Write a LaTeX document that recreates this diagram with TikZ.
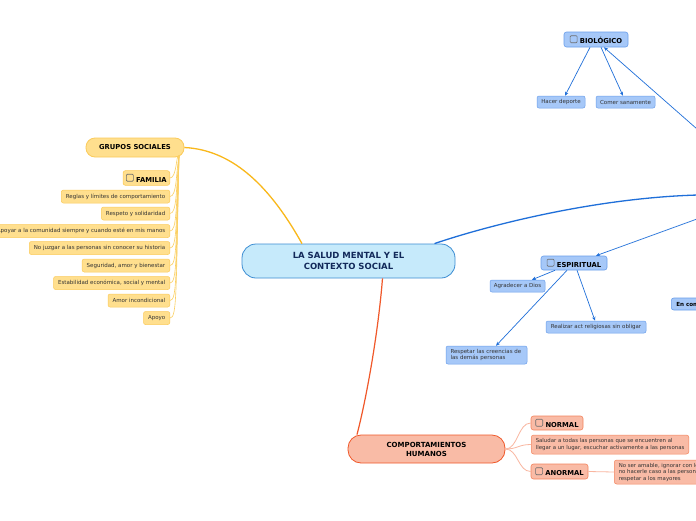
\documentclass[tikz,border=0pt]{standalone}
\usepackage{fontspec}
\setmainfont{DejaVu Sans}
\usetikzlibrary{arrows.meta}
\definecolor{cfill}{HTML}{C6EAFB}
\definecolor{cborder}{HTML}{3C8DD3}
\definecolor{navy}{HTML}{12295A}
\definecolor{yfill}{HTML}{FFDF8E}
\definecolor{yborder}{HTML}{FBCB5A}
\definecolor{ylink}{HTML}{F9B81B}
\definecolor{ythin}{HTML}{FBD063}
\definecolor{bfill}{HTML}{A6C8F8}
\definecolor{bborder}{HTML}{6A9EEB}
\definecolor{blink}{HTML}{1F6FD9}
\definecolor{sfill}{HTML}{F9BBA6}
\definecolor{sborder}{HTML}{F3855F}
\definecolor{slink}{HTML}{F0582A}
\definecolor{sthin}{HTML}{F9B6A0}
\definecolor{txt}{HTML}{333333}
\definecolor{boxgray}{HTML}{6E6E6E}
\newcommand\chkbx{\tikz[baseline=-0.8pt]\draw[draw=boxgray,line width=0.6pt,rounded corners=1pt] (0pt,0pt) rectangle (7pt,7pt);\hspace{2.5pt}}
\tikzset{
  central/.style={draw=cborder, fill=cfill, line width=0.8pt, rounded corners=14pt,
    font=\fontsize{8.5}{10.5}\selectfont\bfseries, text=navy, align=center, inner sep=0pt},
  ymain/.style={draw=yborder, fill=yfill, line width=0.8pt, rounded corners=9pt,
    font=\fontsize{6.8}{8}\selectfont\bfseries, text=black, inner sep=0pt},
  ysub/.style={draw=yborder, fill=yfill, line width=0.6pt, rounded corners=2.5pt,
    font=\fontsize{6.8}{8}\selectfont\bfseries, text=black, inner xsep=3pt, minimum height=14pt, anchor=east},
  yitem/.style={draw=yborder, fill=yfill, line width=0.5pt, rounded corners=2pt,
    font=\fontsize{5.5}{6.6}\selectfont, text=txt, inner xsep=4.5pt, inner ysep=0pt, minimum height=13pt, anchor=east},
  bsub/.style={draw=bborder, fill=bfill, line width=0.6pt, rounded corners=2.5pt,
    font=\fontsize{6.8}{8}\selectfont\bfseries, text=black, inner sep=0pt},
  bitem/.style={draw=bborder, fill=bfill, line width=0.5pt, rounded corners=2pt,
    font=\fontsize{5.5}{6.6}\selectfont, text=txt, inner sep=0pt},
  smain/.style={draw=slink, fill=sfill, line width=0.8pt, rounded corners=13pt,
    font=\fontsize{7}{9}\selectfont\bfseries, text=black, align=center, inner sep=0pt},
  ssub/.style={draw=sborder, fill=sfill, line width=0.6pt, rounded corners=2.5pt,
    font=\fontsize{6.8}{8}\selectfont\bfseries, text=black, inner sep=0pt},
  sitem/.style={draw=sborder, fill=sfill, line width=0.5pt, rounded corners=2.5pt,
    font=\fontsize{5.4}{6.6}\selectfont, text=txt, inner xsep=4.5pt, inner ysep=0pt, align=left, anchor=west},
  yline/.style={draw=ythin, line width=0.6pt},
  barrow/.style={draw=blink, line width=0.7pt, -{Stealth[length=4pt,width=3.5pt]}},
  sline/.style={draw=sthin, line width=0.8pt},
}
\begin{document}
\begin{tikzpicture}[x=1pt,y=-1pt]
\useasboundingbox (0,0) rectangle (696,520);
\clip (0,0) rectangle (696,520);
\fill[white] (0,0) rectangle (696,520);

\coordinate (rb) at (698,195);
\coordinate (rbio) at (697,129);
\coordinate (resp2) at (697,219);

% central node
\node[central, minimum width=213pt, minimum height=34pt] (c) at (348.5,261) {LA SALUD MENTAL Y EL\\CONTEXTO SOCIAL};

% yellow branch
\node[ymain, minimum width=98pt, minimum height=19pt] (gs) at (135,147.5) {GRUPOS SOCIALES};
\node[ysub] (fam) at (170,178) {\chkbx FAMILIA};
\node[yitem] (y1) at (170,196.5) {Reglas y límites de comportamiento};
\node[yitem] (y2) at (170,213.5) {Respeto y solidaridad};
\node[yitem] (y3) at (170,231) {Apoyar a la comunidad siempre y cuando esté en mis manos};
\node[yitem] (y4) at (170,248) {No juzgar a las personas sin conocer su historia};
\node[yitem] (y5) at (170,265.5) {Seguridad, amor y bienestar};
\node[yitem] (y6) at (170,283) {Estabilidad económica, social y mental};
\node[yitem] (y7) at (170,300.5) {Amor incondicional};
\node[yitem] (y8) at (170,318) {Apoyo};

\draw[draw=ylink, line width=1.3pt] ([xshift=-46.5pt]c.north) .. controls (272,190) and (235,150) .. (gs.east);
\coordinate (gsj) at (179,156);
\foreach \n/\yy in {fam/178,y1/196.5,y2/213.5,y3/231,y4/248,y5/265.5,y6/283,y7/300.5,y8/318}{
  \draw[yline] (gsj) .. controls (176,{\yy-25}) and (177,\yy) .. (\n.east);
}

% blue branch
\draw[draw=blink, line width=1.3pt] ([xshift=86pt]c.north) .. controls (480,228) and (590,198) .. (rb);
\node[bsub, minimum width=64pt, minimum height=15pt] (bio) at (596,39.5) {\chkbx BIOLÓGICO};
\node[bitem, minimum width=48pt, minimum height=12pt] (hac) at (561,102) {Hacer deporte};
\node[bitem, minimum width=59pt, minimum height=12pt] (com) at (625.5,102) {Comer sanamente};
\node[bsub, minimum width=66pt, minimum height=14pt] (esp) at (574,263) {\chkbx ESPIRITUAL};
\node[bitem, minimum width=55pt, minimum height=12pt] (agr) at (517.5,286) {Agradecer a Dios};
\node[bitem, minimum width=100pt, minimum height=12pt] (rea) at (596,327) {Realizar act religiosas sin obligar};
\node[bitem, minimum height=18pt, text width=72pt, inner xsep=4.5pt, align=left] (res) at (486.5,355) {Respetar las creencias de las demás personas};
\node[bsub, minimum height=12pt, anchor=west, inner xsep=5pt, font=\fontsize{5.6}{7}\selectfont\bfseries] (enc) at (671,304) {En comunidad};

\draw[barrow] (rbio) -- ([xshift=8pt]bio.south);
\draw[barrow] ([xshift=-6pt]bio.south) -- ([xshift=4pt]hac.north);
\draw[barrow] ([xshift=5pt]bio.south) -- ([xshift=-2.5pt]com.north);
\draw[barrow] (resp2) -- ([xshift=22pt]esp.north);
\draw[barrow] ([xshift=-19pt]esp.south) -- ([xshift=14.5pt]agr.north);
\draw[barrow] ([xshift=-7pt]esp.south) -- ([xshift=9.5pt]res.north);
\draw[barrow] ([xshift=3pt]esp.south) -- ([xshift=-1pt]rea.north);

% salmon branch
\node[smain, minimum width=157pt, minimum height=28pt] (cmp) at (426.5,449) {COMPORTAMIENTOS\\HUMANOS};
\draw[draw=slink, line width=1.2pt] ([xshift=34pt]c.south) .. controls (378,335) and (366,400) .. ([xshift=-69.5pt]cmp.north);
\node[ssub, minimum width=52pt, minimum height=14pt] (nor) at (557,423) {\chkbx NORMAL};
\node[sitem, minimum height=19pt] (sal) at (531,444.5) {Saludar a todas las personas que se encuentren al\\llegar a un lugar, escuchar activamente a las personas};
\node[ssub, minimum width=57pt, minimum height=15pt] (anor) at (559.5,471.5) {\chkbx ANORMAL};
\node[sitem, minimum height=24pt] (nos) at (614,472) {No ser amable, ignorar con los demás,\\no hacerle caso a las personas, no\\respetar a los mayores};
\draw[sline] (cmp.east) .. controls (518,449) and (518,423) .. (nor.west);
\draw[sline] (cmp.east) .. controls (518,449) and (518,444.5) .. (sal.west);
\draw[sline] (cmp.east) .. controls (518,449) and (518,471.5) .. (anor.west);
\draw[sline] (anor.east) -- (nos.west);
\end{tikzpicture}
\end{document}
